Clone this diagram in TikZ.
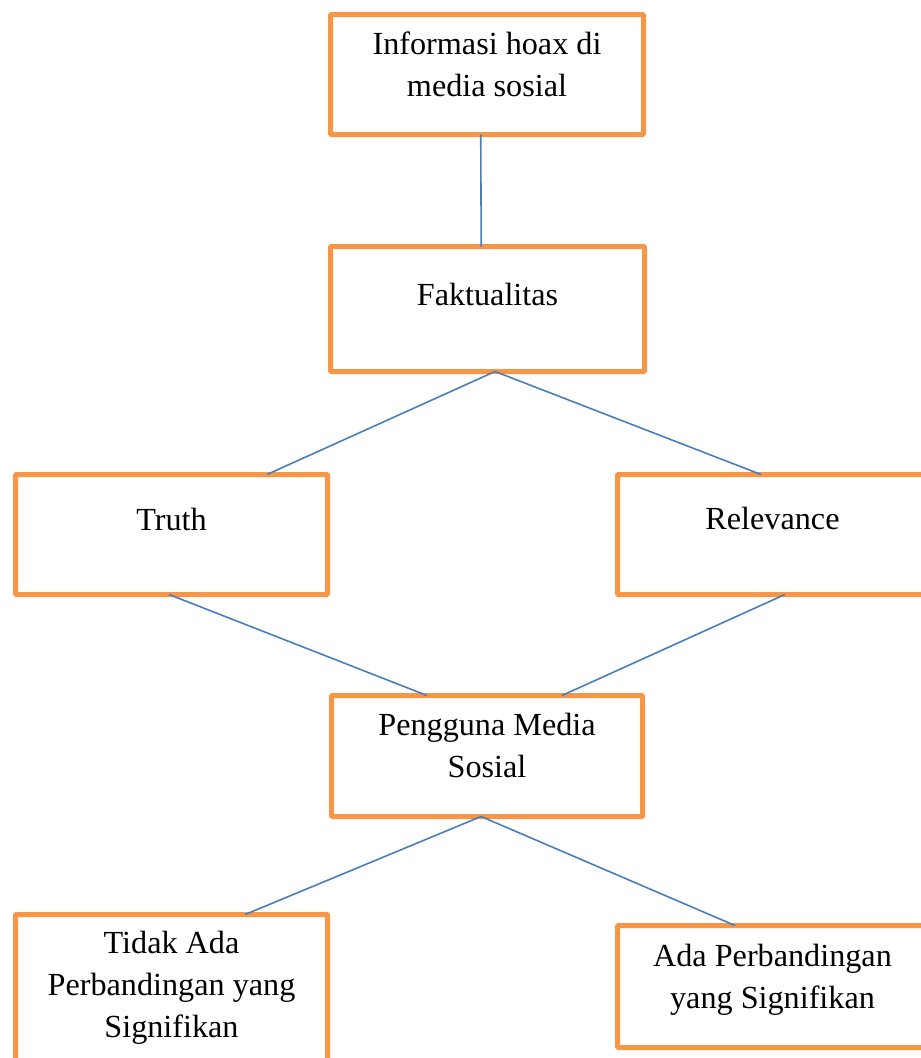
\documentclass[tikz,border=0pt]{standalone}
\usepackage{fontspec}
\setmainfont{Liberation Serif}
\usetikzlibrary{calc}
\definecolor{boxorange}{HTML}{F79646}
\definecolor{lineblue}{HTML}{4A7EBB}

\begin{document}
\begin{tikzpicture}[x=1pt,y=-1pt,
        box/.style={draw=boxorange, line width=5pt, rounded corners=0.8pt, inner sep=0pt, outer sep=0pt, anchor=north west, minimum width=313pt, minimum height=121pt},
        lbl/.style={anchor=base, align=center, inner sep=0pt, font=\fontsize{32.2}{42}\selectfont},
        link/.style={draw=lineblue, line width=1.6pt}]
            \clip (0,0) rectangle (921,1058);
            \node[box, minimum height=120pt] (info) at (330.5,14.5) {};
            \node[box, minimum width=314pt, minimum height=125pt] (fakt) at (330.5,246.5) {};
            \node[box, minimum width=312pt, minimum height=120pt] (truth) at (15.5,474.5) {};
            \node[box, minimum width=310pt, minimum height=120pt] (relev) at (617.5,474.5) {};
            \node[box, minimum width=311pt] (user) at (331.5,695.5) {};
            \node[box, minimum width=312pt, minimum height=170pt] (tidak) at (15.5,914.5) {};
            \node[box, minimum width=310pt, minimum height=122pt] (ada) at (617.5,925.5) {};
            \node[lbl] (infotext) at ($(info.north)+(0,81.5)$) {Informasi hoax di\\media sosial};
            \node[lbl] (fakttext) at ($(fakt.north)+(0,58.5)$) {Faktualitas};
            \node[lbl] (truthtext) at ($(truth.north)+(0,55.5)$) {Truth};
            \node[lbl] (relevtext) at ($(relev.north)+(0,55)$) {Relevance};
            \node[lbl] (usertext) at ($(user.north)+(0,81.5)$) {Pengguna Media\\Sosial};
            \node[lbl] (tidaktext) at ($(tidak.north)+(0,122.5)$) {Tidak Ada\\Perbandingan yang\\Signifikan};
            \node[lbl] (adatext) at ($(ada.north)+(0,82.5)$) {Ada Perbandingan\\yang Signifikan};
            \draw[link] ($(info.south west)!0.48!(info.south east)$) -- ($(fakt.north west)!0.48!(fakt.north east)$);
            \draw[link] ($(truth.north west)!0.806!(truth.north east)$) -- ($(fakt.south west)!0.524!(fakt.south east)$) -- ($(relev.north west)!0.463!(relev.north east)$);
            \draw[link] ($(truth.south west)!0.492!(truth.south east)$) -- ($(user.north west)!0.307!(user.north east)$);
            \draw[link] ($(relev.south west)!0.54!(relev.south east)$) -- ($(user.north west)!0.741!(user.north east)$);
            \draw[link] ($(tidak.north west)!0.736!(tidak.north east)$) -- ($(user.south west)!0.481!(user.south east)$) -- ($(ada.north west)!0.379!(ada.north east)$);
        \end{tikzpicture}
\end{document}
